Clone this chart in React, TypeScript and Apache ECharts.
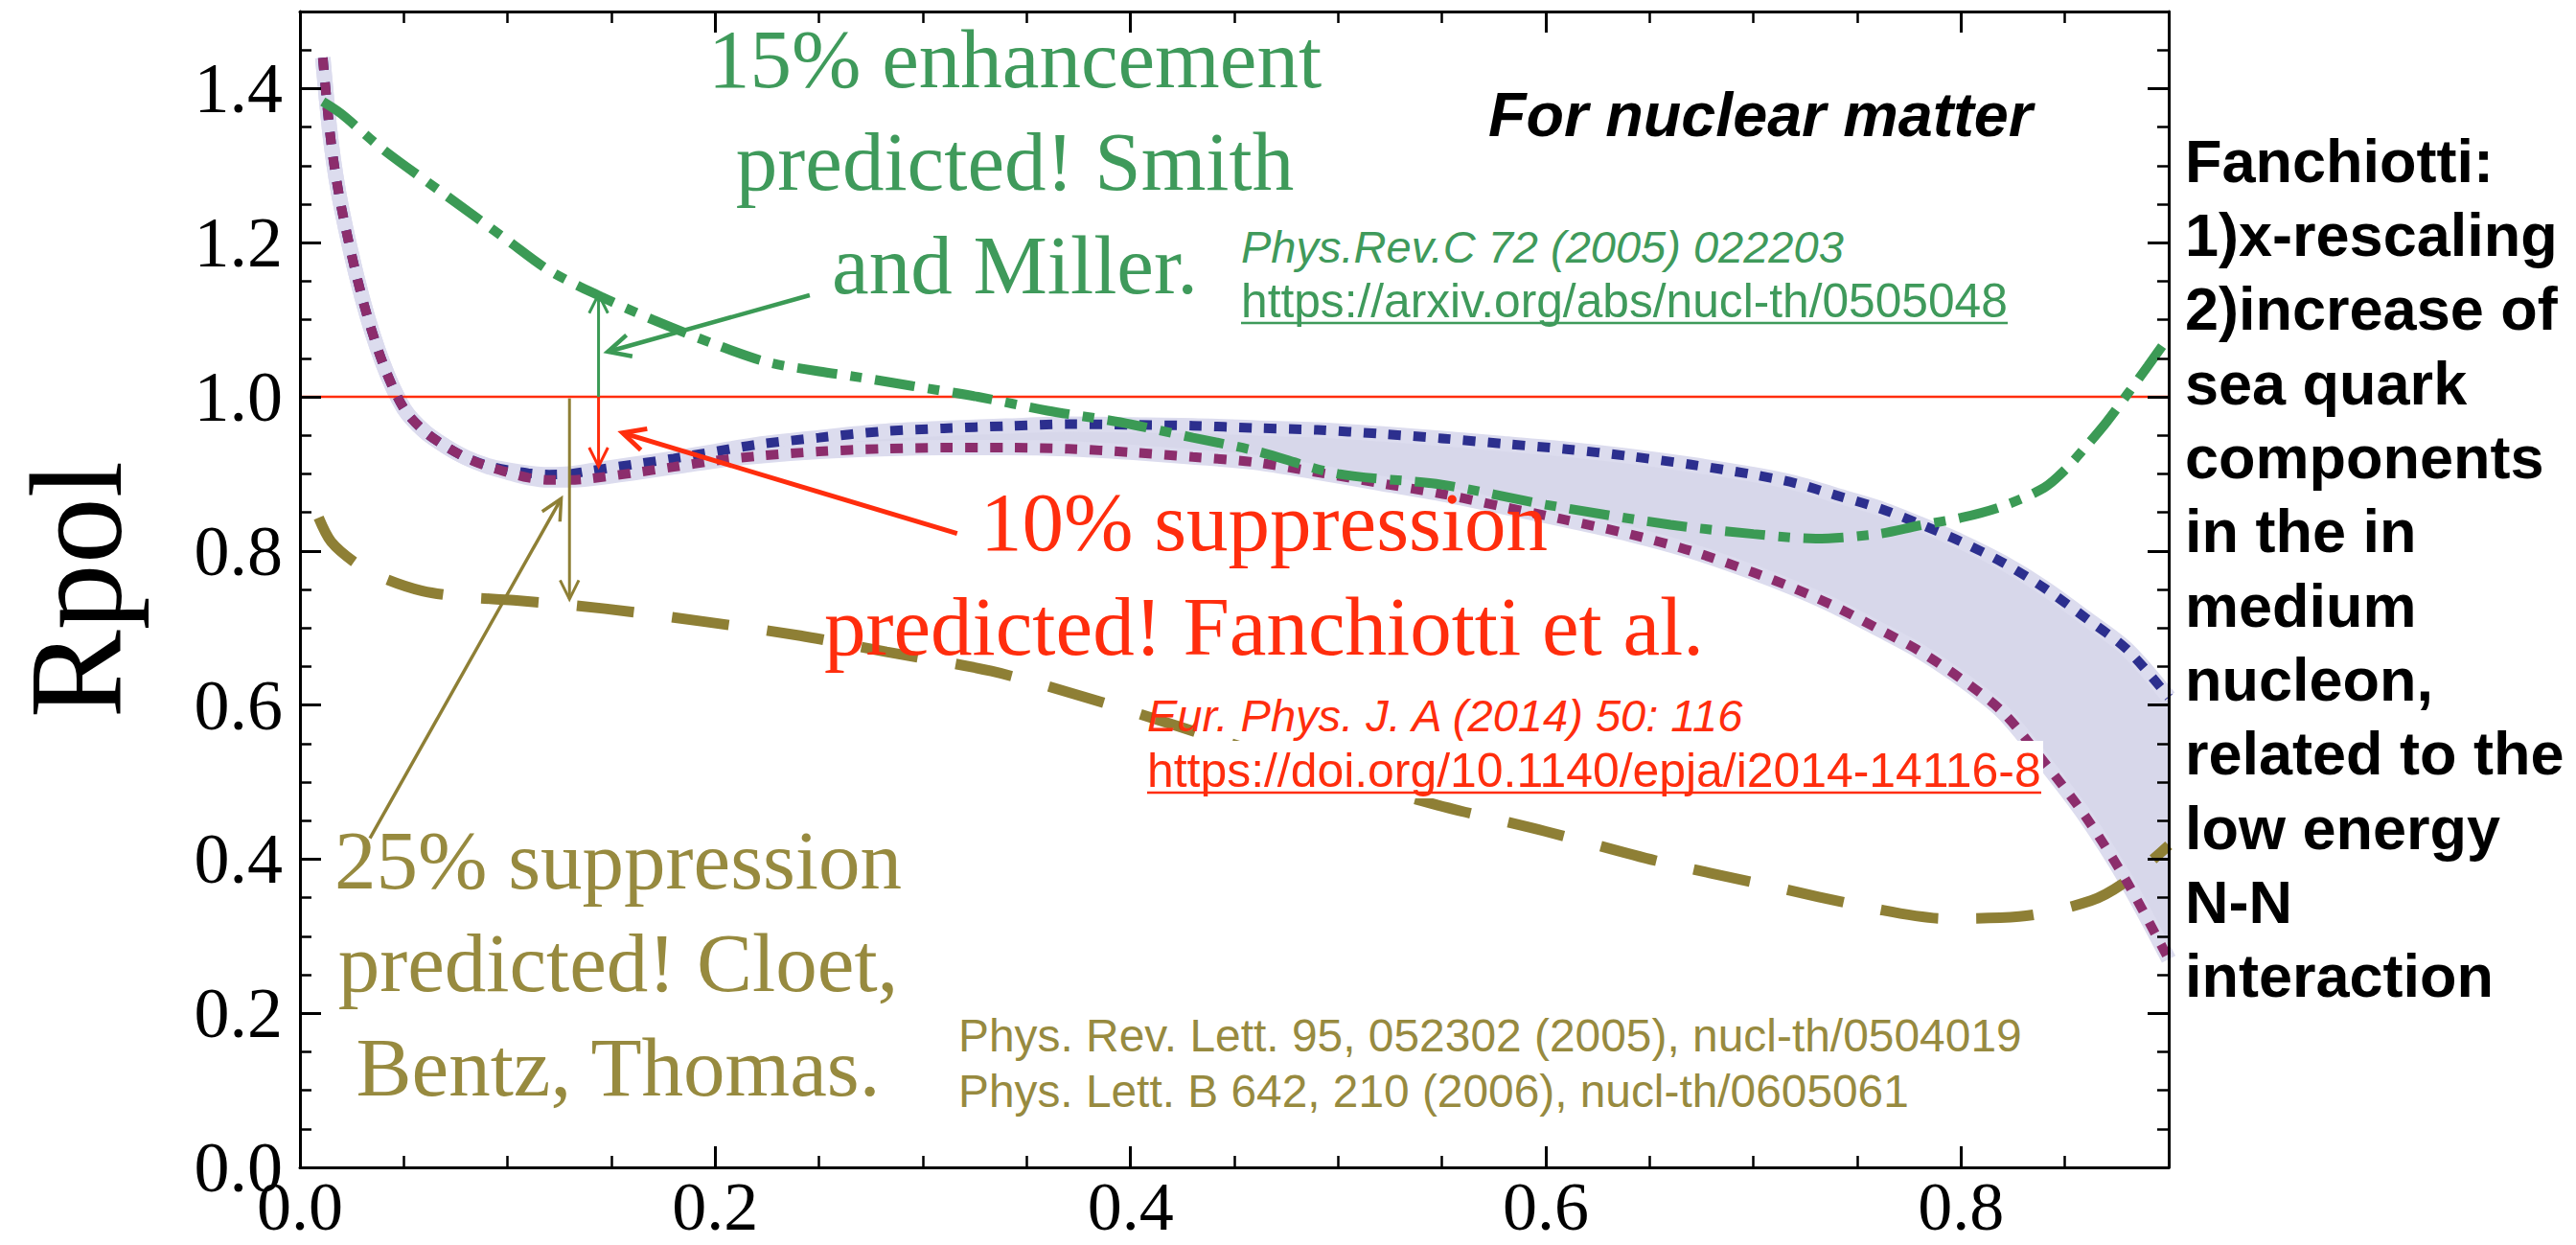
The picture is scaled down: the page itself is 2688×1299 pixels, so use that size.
import React, { useEffect, useRef } from 'react';
import * as echarts from 'echarts';

// ---------------- data ----------------
// band curves (same x grid for both)
const xBand = [0.011, 0.015, 0.02, 0.03, 0.04, 0.05, 0.06, 0.07, 0.08, 0.09, 0.10, 0.11, 0.12, 0.13, 0.14, 0.16, 0.18, 0.20, 0.22, 0.25, 0.28, 0.31, 0.34, 0.37, 0.40, 0.43, 0.46, 0.49, 0.52, 0.55, 0.58, 0.61, 0.64, 0.67, 0.70, 0.72, 0.74, 0.76, 0.78, 0.80, 0.82, 0.84, 0.86, 0.88, 0.90];
const rpolBlue = [1.44, 1.33, 1.245, 1.128, 1.043, 0.985, 0.955, 0.936, 0.921, 0.911, 0.905, 0.901, 0.899, 0.900, 0.904, 0.912, 0.920, 0.929, 0.938, 0.947, 0.955, 0.959, 0.962, 0.9645, 0.9636, 0.9625, 0.9595, 0.957, 0.952, 0.946, 0.939, 0.932, 0.923, 0.912, 0.899, 0.888, 0.872, 0.856, 0.835, 0.812, 0.785, 0.752, 0.713, 0.672, 0.61];
const rpolMagenta = [1.44, 1.33, 1.245, 1.128, 1.043, 0.985, 0.955, 0.936, 0.921, 0.910, 0.902, 0.895, 0.892, 0.892, 0.894, 0.901, 0.909, 0.917, 0.923, 0.929, 0.9325, 0.934, 0.934, 0.9325, 0.928, 0.922, 0.915, 0.902, 0.888, 0.874, 0.857, 0.840, 0.822, 0.800, 0.772, 0.751, 0.727, 0.699, 0.670, 0.634, 0.591, 0.526, 0.455, 0.37, 0.27];

const xGreen = [0.011, 0.02, 0.04, 0.07, 0.10, 0.12, 0.145, 0.17, 0.20, 0.225, 0.25, 0.27, 0.295, 0.3265, 0.36, 0.395, 0.43, 0.46, 0.50, 0.55, 0.60, 0.66, 0.70, 0.73, 0.76, 0.78, 0.80, 0.82, 0.84, 0.85, 0.86, 0.87, 0.88, 0.89, 0.90];
const rpolGreen = [1.383, 1.367, 1.321, 1.262, 1.203, 1.164, 1.13, 1.10, 1.068, 1.045, 1.033, 1.025, 1.014, 1.0, 0.982, 0.967, 0.947, 0.930, 0.900, 0.886, 0.860, 0.834, 0.822, 0.816, 0.822, 0.833, 0.843, 0.858, 0.882, 0.905, 0.935, 0.967, 1.003, 1.04, 1.078];

const xOlive = [0.009, 0.015, 0.0265, 0.04, 0.059, 0.08, 0.103, 0.147, 0.194, 0.241, 0.2825, 0.333, 0.377, 0.42, 0.46, 0.50, 0.548, 0.60, 0.653, 0.705, 0.758, 0.792, 0.828, 0.8625, 0.88, 0.90];
const rpolOlive = [0.843, 0.812, 0.785, 0.765, 0.748, 0.740, 0.736, 0.725, 0.7085, 0.690, 0.669, 0.644, 0.611, 0.575, 0.540, 0.507, 0.470, 0.436, 0.398, 0.367, 0.336, 0.323, 0.3255, 0.346, 0.372, 0.418];

const xUnity = [0, 0.9];
const rpolUnity = [1, 1];

// annotation arrows, in data coordinates [from, to]
const greenUpArrow = [[0.1438, 1.0], [0.1438, 1.133]];
const redDownArrow = [[0.1438, 1.0], [0.1438, 0.9096]];
const oliveDownArrow = [[0.1298, 0.998], [0.1298, 0.7375]];
const greenPointer = [[0.2455, 1.1318], [0.1483, 1.0585]];
const redPointer = [[0.3165, 0.8225], [0.1554, 0.9531]];
const olivePointer = [[0.0337, 0.427], [0.1258, 0.8678]];

// texts
const greenNote = ['15% enhancement', 'predicted! Smith', 'and Miller.'];
const redNote = ['10% suppression', 'predicted! Fanchiotti et al.'];
const oliveNote = ['25% suppression', 'predicted! Cloet,', 'Bentz, Thomas.'];
const greenCite = ['Phys.Rev.C 72 (2005) 022203', 'https://arxiv.org/abs/nucl-th/0505048'];
const redCite = ['Eur. Phys. J. A (2014) 50: 116', 'https://doi.org/10.1140/epja/i2014-14116-8'];
const oliveCite = ['Phys. Rev. Lett. 95, 052302 (2005), nucl-th/0504019', 'Phys. Lett. B 642, 210 (2006), nucl-th/0605061'];
const sideNote = ['Fanchiotti:', '1)x-rescaling', '2)increase of', 'sea quark', 'components', 'in the in', 'medium', 'nucleon,', 'related to the', 'low energy', 'N-N', 'interaction'];
const matterNote = 'For nuclear matter';
const yTitle = 'Rpol';

// ---------------- styling ----------------
const SERIF = '"Liberation Serif", "Times New Roman", serif';
const SANS = '"Liberation Sans", Arial, sans-serif';
const C_BLUE = '#2c2f8e';
const C_MAG = '#8c2d6c';
const C_GREEN = '#3b9a55';
const C_OLIVE = '#8e7f35';
const C_RED = '#ff2d0d';
const C_GREEN_T = '#3f9a5b';
const C_OLIVE_T = '#978a3f';
const C_BAND = '#d7d7ea';
const C_HALO = '#dcdcee';
const CENTRAL = 0.33;

const GRID = { left: 313, top: 12, right: 425, bottom: 81 };

const fmtMajor = (v: number) => {
  const k = v / 0.2;
  return Math.abs(k - Math.round(k)) < 1e-6 ? v.toFixed(1) : '';
};

function mkAxis(dim: 'x' | 'y', position: string, interval: number, tickLen: number, showLine: boolean, label: boolean) {
  const isX = dim === 'x';
  return {
    type: 'value',
    position,
    min: 0,
    max: isX ? 0.9 : 1.5,
    interval,
    gridIndex: 0,
    z: 10,
    splitLine: { show: false },
    axisLine: { show: showLine, onZero: false, lineStyle: { color: '#000', width: 3 } },
    axisTick: { show: true, inside: true, length: tickLen, lineStyle: { color: '#000', width: showLine ? 3 : 2.5 } },
    axisLabel: label
      ? {
          show: true,
          margin: isX ? 11 : 18,
          fontSize: isX ? 72 : 74,
          lineHeight: isX ? 60 : 74,
          fontFamily: SERIF,
          color: '#000',
          formatter: fmtMajor,
          showMaxLabel: false,
        }
      : { show: false },
  };
}

const pts = (xs: number[], ys: number[]) => xs.map((x, i) => [x, ys[i]]);

function buildOption() {
  const lineBase = {
    type: 'line',
    xAxisIndex: 0,
    yAxisIndex: 0,
    showSymbol: false,
    symbol: 'none',
    silent: true,
    smooth: 0.3,
  };
  return {
    animation: false,
    backgroundColor: '#fff',
    grid: GRID,
    xAxis: [
      mkAxis('x', 'bottom', 0.2, 22, true, true),
      mkAxis('x', 'bottom', 0.05, 12, false, false),
      mkAxis('x', 'top', 0.2, 22, true, false),
      mkAxis('x', 'top', 0.05, 12, false, false),
    ],
    yAxis: [
      mkAxis('y', 'left', 0.2, 22, true, true),
      mkAxis('y', 'left', 0.05, 12, false, false),
      mkAxis('y', 'right', 0.2, 22, true, false),
      mkAxis('y', 'right', 0.05, 12, false, false),
    ],
    series: [
      {
        type: 'custom',
        name: 'band',
        xAxisIndex: 0,
        yAxisIndex: 0,
        z: 1,
        silent: true,
        data: [[0.5, 0.9]],
        renderItem: (_p: any, api: any) => {
          const upper = xBand.map((x, i) => api.coord([x, rpolBlue[i]]));
          const lower = xBand.map((x, i) => api.coord([x, rpolMagenta[i]])).reverse();
          return {
            type: 'polygon',
            silent: true,
            shape: { points: upper.concat(lower) },
            style: { fill: C_BAND, stroke: null },
          };
        },
      },
      {
        ...lineBase,
        name: 'blueHalo',
        z: 1,
        lineStyle: { color: C_HALO, width: 16, type: 'solid' },
        data: pts(xBand, rpolBlue),
      },
      {
        ...lineBase,
        name: 'magentaHalo',
        z: 1,
        lineStyle: { color: C_HALO, width: 16, type: 'solid' },
        data: pts(xBand, rpolMagenta),
      },
      {
        ...lineBase,
        name: 'unity',
        z: 2,
        smooth: false,
        lineStyle: { color: C_RED, width: 2.5, type: 'solid' },
        data: pts(xUnity, rpolUnity),
      },
      {
        ...lineBase,
        name: 'olive',
        z: 3,
        lineStyle: { color: C_OLIVE, width: 11, type: [60, 40], cap: 'butt' },
        data: pts(xOlive, rpolOlive),
      },
      {
        ...lineBase,
        name: 'blue',
        z: 4,
        lineStyle: { color: C_BLUE, width: 10, type: [13, 13], cap: 'butt' },
        data: pts(xBand, rpolBlue),
      },
      {
        ...lineBase,
        name: 'magenta',
        z: 5,
        lineStyle: { color: C_MAG, width: 10, type: [13, 13], cap: 'butt' },
        data: pts(xBand, rpolMagenta),
      },
      {
        ...lineBase,
        name: 'green',
        z: 6,
        lineStyle: { color: C_GREEN, width: 10, type: [42, 14, 12, 14], cap: 'butt' },
        data: pts(xGreen, rpolGreen),
      },
    ],
  };
}

// ------------- text helpers -------------
let mctx: CanvasRenderingContext2D | null = null;
function measure(text: string, fs: number, family: string, weight = 'normal', style = 'normal') {
  if (!mctx) mctx = document.createElement('canvas').getContext('2d');
  mctx!.font = `${style} ${weight} ${fs}px ${family}`;
  return mctx!.measureText(text).width;
}
function fitSize(text: string, target: number, family: string, weight = 'normal', style = 'normal') {
  return (100 * target) / measure(text, 100, family, weight, style);
}

function T(text: string, x: number, base: number, fs: number, fill: string, family: string, o: any = {}) {
  const align = o.align || 'left';
  return {
    type: 'text',
    x,
    y: base - CENTRAL * fs,
    z: 60,
    silent: true,
    style: {
      text,
      fill,
      fontSize: fs,
      fontFamily: family,
      fontWeight: o.weight || 'normal',
      fontStyle: o.style || 'normal',
      align,
      verticalAlign: 'middle',
      textAlign: align,
      textVerticalAlign: 'middle',
    },
  };
}

function arrow(p0: number[], p1: number[], color: string, w: number, len = 24, ang = 0.46) {
  const a = Math.atan2(p1[1] - p0[1], p1[0] - p0[0]);
  const l = [p1[0] - len * Math.cos(a - ang), p1[1] - len * Math.sin(a - ang)];
  const r = [p1[0] - len * Math.cos(a + ang), p1[1] - len * Math.sin(a + ang)];
  return [
    { type: 'line', z: 50, silent: true, shape: { x1: p0[0], y1: p0[1], x2: p1[0], y2: p1[1] }, style: { stroke: color, lineWidth: w } },
    { type: 'polyline', z: 50, silent: true, shape: { points: [l, p1, r] }, style: { stroke: color, lineWidth: w, fill: null, lineJoin: 'miter' } },
  ];
}

function buildGraphics(px: (p: number[]) => number[]) {
  const els: any[] = [];
  const A = (seg: number[][], color: string, w: number, len?: number) => els.push(...arrow(px(seg[0]), px(seg[1]), color, w, len));
  A(greenUpArrow, C_GREEN, 3, 22);
  A(redDownArrow, C_RED, 3, 22);
  A(oliveDownArrow, C_OLIVE, 3, 22);
  A(greenPointer, C_GREEN, 4.5, 26);
  A(redPointer, C_RED, 5, 26);
  A(olivePointer, C_OLIVE, 3.5, 24);

  // big annotations
  const BIG = 87;
  [90, 197, 305].forEach((b, i) => els.push(T(greenNote[i], 1059, b, BIG, C_GREEN_T, SERIF, { align: 'center' })));
  [573, 682].forEach((b, i) => els.push(T(redNote[i], 1319, b, BIG, C_RED, SERIF, { align: 'center' })));
  [926, 1033, 1142].forEach((b, i) => els.push(T(oliveNote[i], 645, b, BIG, C_OLIVE_T, SERIF, { align: 'center' })));

  // citations
  const cite = (text: string, x: number, base: number, width: number, color: string, italic: boolean, underline: boolean) => {
    const st = italic ? 'italic' : 'normal';
    const fs = fitSize(text, width, SANS, 'normal', st);
    els.push(T(text, x, base, fs, color, SANS, { style: st }));
    if (underline) {
      els.push({ type: 'line', z: 60, silent: true, shape: { x1: x, y1: base + 7, x2: x + width, y2: base + 7 }, style: { stroke: color, lineWidth: 2.5 } });
    }
  };
  cite(greenCite[0], 1295, 273, 629, C_GREEN_T, true, false);
  cite(greenCite[1], 1295, 330, 800, C_GREEN_T, false, true);
  els.push({ type: 'rect', z: 55, silent: true, shape: { x: 1190, y: 773, width: 942, height: 60 }, style: { fill: '#fff' } });
  cite(redCite[0], 1197, 762, 625, C_RED, true, false);
  cite(redCite[1], 1197, 820, 933, C_RED, false, true);
  cite(oliveCite[0], 1000, 1096, 1110, C_OLIVE_T, false, false);
  cite(oliveCite[1], 1000, 1154, 992, C_OLIVE_T, false, false);

  // "For nuclear matter"
  const fsM = fitSize(matterNote, 568, SANS, 'bold', 'italic');
  els.push(T(matterNote, 1553, 141, fsM, '#000', SANS, { weight: 'bold', style: 'italic' }));

  // side note
  sideNote.forEach((s, i) => els.push(T(s, 2280, 188.6 + 77.3 * i, 63, '#000', SANS, { weight: 'bold' })));

  // y-axis title
  els.push({
    type: 'text',
    x: 125 - CENTRAL * 138,
    y: 615,
    rotation: Math.PI / 2,
    z: 60,
    silent: true,
    style: { text: yTitle, fill: '#000', fontSize: 138, fontFamily: SERIF, align: 'center', verticalAlign: 'middle', textAlign: 'center', textVerticalAlign: 'middle' },
  });
  return els;
}

export default function App() {
  const ref = useRef<HTMLDivElement>(null);
  useEffect(() => {
    const chart = echarts.init(ref.current!, null, { renderer: 'svg' });
    chart.setOption(buildOption() as any);
    const px = (p: number[]) => chart.convertToPixel({ xAxisIndex: 0, yAxisIndex: 0 }, p) as number[];
    chart.setOption({ graphic: { elements: buildGraphics(px) } } as any);
    return () => chart.dispose();
  }, []);
  return (
    <div
      ref={ref}
      style={{ position: 'fixed', left: 0, top: 0, width: 2688, height: 1299, background: '#fff' }}
    />
  );
}
